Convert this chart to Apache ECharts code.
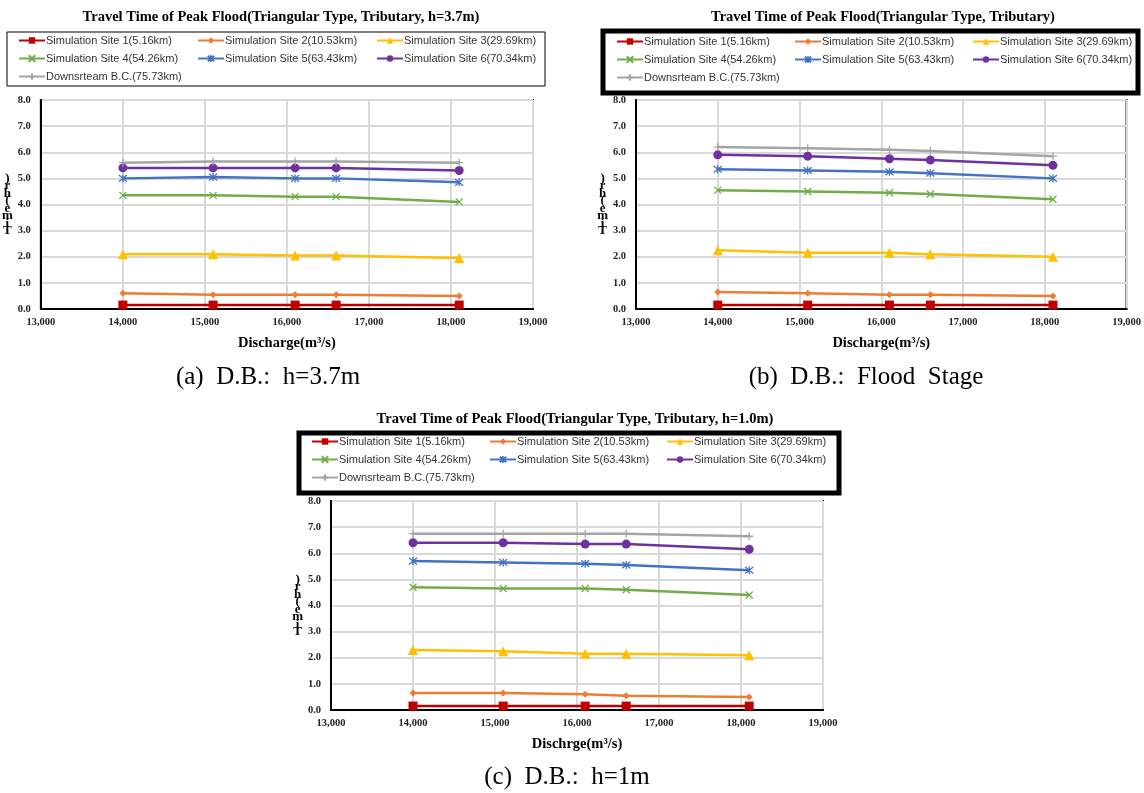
<!DOCTYPE html>
<html>
<head>
<meta charset="utf-8">
<script src="https://cdn.jsdelivr.net/npm/echarts@6/dist/echarts.min.js"></script>
<style>
  html, body { margin: 0; padding: 0; background: #fff; }
  #main { width: 1144px; height: 793px; }
</style>
</head>
<body>
<div id="main"></div>
<script>
// discharge (m3/s) for every run
const discharge = [14000, 15100, 16100, 16600, 18100];

const siteNames = [
  'Simulation Site 1(5.16km)', 'Simulation Site 2(10.53km)', 'Simulation Site 3(29.69km)',
  'Simulation Site 4(54.26km)', 'Simulation Site 5(63.43km)', 'Simulation Site 6(70.34km)',
  'Downsrteam B.C.(75.73km)'
];

// (a) D.B.: h=3.7m
const timeA = [
  [0.15, 0.15, 0.15, 0.15, 0.15],
  [0.60, 0.55, 0.55, 0.55, 0.50],
  [2.10, 2.10, 2.05, 2.05, 1.95],
  [4.35, 4.35, 4.30, 4.30, 4.10],
  [5.00, 5.05, 5.00, 5.00, 4.85],
  [5.40, 5.40, 5.40, 5.40, 5.30],
  [5.60, 5.65, 5.65, 5.65, 5.60]
];
// (b) D.B.: Flood Stage
const timeB = [
  [0.15, 0.15, 0.15, 0.15, 0.15],
  [0.65, 0.60, 0.55, 0.55, 0.50],
  [2.25, 2.15, 2.15, 2.10, 2.00],
  [4.55, 4.50, 4.45, 4.40, 4.20],
  [5.35, 5.30, 5.25, 5.20, 5.00],
  [5.90, 5.85, 5.75, 5.70, 5.50],
  [6.20, 6.15, 6.10, 6.05, 5.85]
];
// (c) D.B.: h=1m
const timeC = [
  [0.15, 0.15, 0.15, 0.15, 0.15],
  [0.65, 0.65, 0.60, 0.55, 0.50],
  [2.30, 2.25, 2.15, 2.15, 2.10],
  [4.70, 4.65, 4.65, 4.60, 4.40],
  [5.70, 5.65, 5.60, 5.55, 5.35],
  [6.40, 6.40, 6.35, 6.35, 6.15],
  [6.75, 6.75, 6.75, 6.75, 6.65]
];

const chartTitles = [
  'Travel Time of Peak Flood(Triangular Type, Tributary, h=3.7m)',
  'Travel Time of Peak Flood(Triangular Type, Tributary)',
  'Travel Time of Peak Flood(Triangular Type, Tributary, h=1.0m)'
];
const xNames = ['Discharge(m³/s)', 'Discharge(m³/s)', 'Dischrge(m³/s)'];
const captions = ['(a)  D.B.:  h=3.7m', '(b)  D.B.:  Flood  Stage', '(c)  D.B.:  h=1m'];

const colors = ['#C00000', '#ED7D31', '#FFC000', '#70AD47', '#4472C4', '#7030A0', '#A5A5A5'];
const symbols = ['rect', 'diamond', 'triangle',
  'path://M0,0L10,10M10,0L0,10',
  'path://M0,0L10,10M10,0L0,10M5,-1L5,11',
  'circle',
  'path://M5,0L5,10M0,5L10,5'];
const symbolSizes = [9, 7, 10, 7, 8, 9, 8];

// legend columns (series index per column)
const legendCols = [[0, 3, 6], [1, 4], [2, 5]];

// layout of the three panels
const panels = [
  { left: 39, top: 100, width: 494, height: 209, cx: 276, titleY: 5, legendX: [18, 197, 376], legendY: 35,
    box: [7, 32, 538, 54], boxW: 1, capX: 268, capY: 377 },
  { left: 636, top: 100, width: 491, height: 209, cx: 878, titleY: 5, legendX: [616, 794, 972], legendY: 36,
    box: [603, 31, 535, 62], boxW: 5, capX: 866, capY: 377 },
  { left: 331, top: 501, width: 492, height: 209, cx: 570, titleY: 407, legendX: [311, 489, 666], legendY: 436,
    box: [299, 433, 540, 60], boxW: 5, capX: 567, capY: 777 }
];
const datasets = [timeA, timeB, timeC];

const serif = '"Liberation Serif", "DejaVu Serif", serif';

const option = {
  animation: false,
  backgroundColor: '#fff',
  title: [], legend: [], grid: [], xAxis: [], yAxis: [], series: [], graphic: []
};

panels.forEach(function (p, k) {
  option.title.push({
    text: chartTitles[k],
    left: p.cx, top: p.titleY, textAlign: 'center',
    textStyle: { fontFamily: serif, fontWeight: 'bold', fontSize: 14.5, color: '#000' }
  });
  option.graphic.push({
    type: 'rect', z: 0,
    shape: { x: p.box[0], y: p.box[1], width: p.box[2], height: p.box[3] },
    style: { fill: '#fff', stroke: '#000', lineWidth: p.boxW }
  });
  option.graphic.push({
    type: 'text', x: p.capX, y: p.capY,
    style: { text: captions[k], fill: '#000', font: '25px ' + serif, align: 'center', verticalAlign: 'middle' }
  });
  legendCols.forEach(function (col, c) {
    option.legend.push({
      orient: 'vertical', left: p.legendX[c], top: p.legendY,
      itemWidth: 26, itemHeight: 8, itemGap: 7, padding: 0,
      data: col.map(function (i) { return siteNames[i]; }),
      textStyle: { fontFamily: '"Liberation Sans", Arial, sans-serif', fontSize: 11, color: '#333',
        padding: [0, 0, 0, -4] }
    });
  });
  option.grid.push({
    left: p.left, top: p.top, width: p.width, height: p.height,
    show: true, borderColor: '#000', borderWidth: 2, containLabel: false
  });
  option.xAxis.push({
    gridIndex: k, type: 'value', min: 13000, max: 19000, interval: 1000,
    name: xNames[k], nameLocation: 'middle', nameGap: 27,
    nameTextStyle: { fontFamily: serif, fontWeight: 'bold', fontSize: 14.5, color: '#000' },
    axisLine: { show: true, lineStyle: { color: '#000', width: 2 } },
    axisTick: { show: false },
    axisLabel: { fontFamily: serif, fontWeight: 'bold', fontSize: 10.5, color: '#222', margin: 8,
      formatter: function (v) { return v.toLocaleString('en-US'); } },
    splitLine: { show: true, lineStyle: { color: '#d9d9d9', width: 2 } }
  });
  option.yAxis.push({
    gridIndex: k, type: 'value', min: 0, max: 8, interval: 1,
    name: ')\nr\nh\n(\ne\nm\ni\nT', nameLocation: 'middle', nameGap: 27, nameRotate: 0,
    nameTextStyle: { fontFamily: serif, fontWeight: 'bold', fontSize: 13, color: '#000',
      lineHeight: 7.5, align: 'center', verticalAlign: 'middle' },
    axisLine: { show: true, lineStyle: { color: '#000', width: 2 } },
    axisTick: { show: false },
    axisLabel: { fontFamily: serif, fontWeight: 'bold', fontSize: 10.5, color: '#222', margin: 10,
      formatter: function (v) { return v.toFixed(1); } },
    splitLine: { show: true, lineStyle: { color: '#d9d9d9', width: 2 } }
  });
  datasets[k].forEach(function (vals, i) {
    const isPath = symbols[i].indexOf('path://') === 0;
    option.series.push({
      name: siteNames[i], type: 'line', xAxisIndex: k, yAxisIndex: k,
      data: discharge.map(function (x, j) { return [x, vals[j]]; }),
      symbol: symbols[i], symbolSize: symbolSizes[i], showAllSymbol: true,
      color: colors[i],
      lineStyle: { color: colors[i], width: 2.5 },
      itemStyle: { color: colors[i], borderColor: colors[i], borderWidth: isPath ? 1.3 : 0 },
      z: 3
    });
  });
});

const chart = echarts.init(document.getElementById('main'), null, { renderer: 'canvas' });
chart.setOption(option);
</script>
</body>
</html>
